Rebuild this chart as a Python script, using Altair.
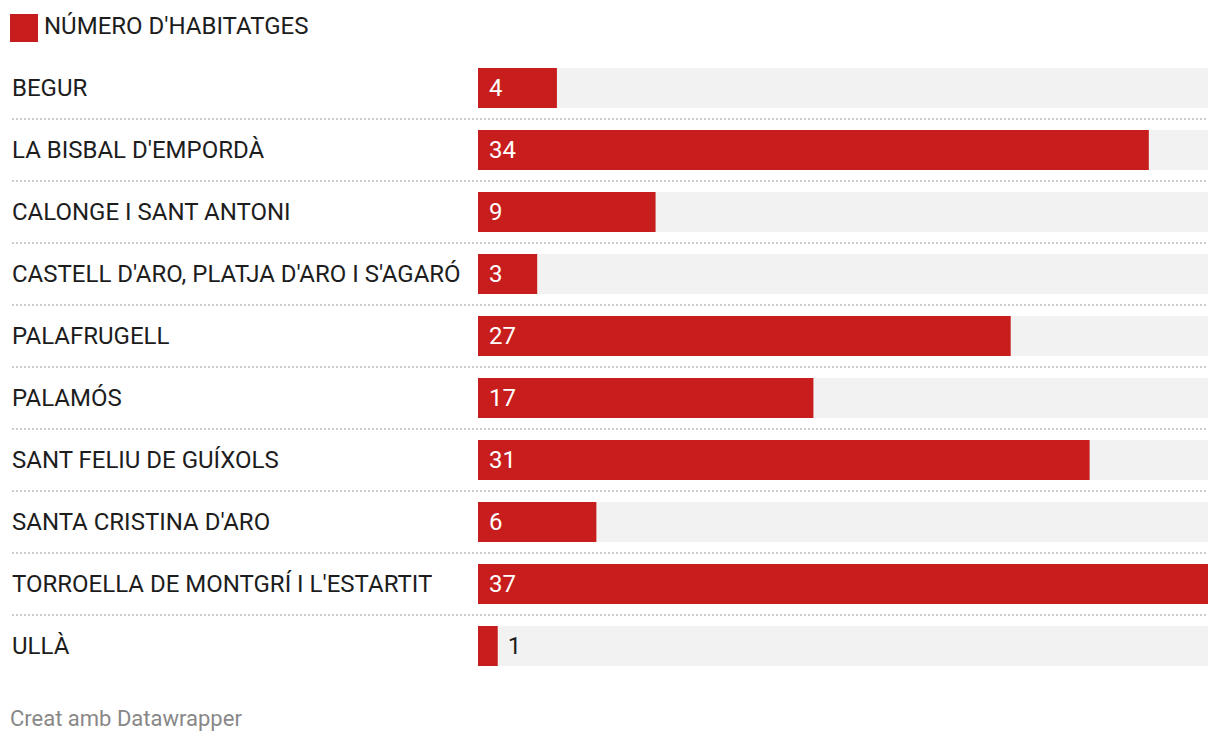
import altair as alt
import pandas as pd

categories = [
    "BEGUR",
    "LA BISBAL D'EMPORDÀ",
    "CALONGE I SANT ANTONI",
    "CASTELL D'ARO, PLATJA D'ARO I S'AGARÓ",
    "PALAFRUGELL",
    "PALAMÓS",
    "SANT FELIU DE GUÍXOLS",
    "SANTA CRISTINA D'ARO",
    "TORROELLA DE MONTGRÍ I L'ESTARTIT",
    "ULLÀ",
]
values = [4, 34, 9, 3, 27, 17, 31, 6, 37, 1]
legend_label = "NÚMERO D'HABITATGES"
footer = "Creat amb Datawrapper"

RED = "#c71d1d"
FONT = "Roboto"
FS = 24
MAXV = max(values)

df = pd.DataFrame({"cat": categories, "value": values, "max": [MAXV] * len(values)})
df["last"] = [i == len(categories) - 1 for i in range(len(categories))]

y = alt.Y("cat:N", sort=categories, axis=None,
          scale=alt.Scale(paddingInner=22 / 62, paddingOuter=11 / 62))
xs = alt.Scale(domain=[0, MAXV], nice=False, zero=True)

base = alt.Chart(df)

bg = base.mark_bar(color="#f2f2f2").encode(
    x=alt.X("max:Q", scale=xs, axis=None), y=y)
bars = base.mark_bar(color=RED).encode(
    x=alt.X("value:Q", scale=xs, axis=None), y=y)

inside = base.transform_filter("datum.value >= 2").mark_text(
    align="left", baseline="middle", font=FONT, fontSize=FS, color="white", dy=1
).encode(x=alt.value(11), y=y, text="value:Q")

outside = base.transform_filter("datum.value < 2").mark_text(
    align="left", baseline="middle", font=FONT, fontSize=FS, color="#1d1d1d", dx=10, dy=1
).encode(x=alt.X("value:Q", scale=xs), y=y, text="value:Q")

names = base.mark_text(
    align="left", baseline="middle", font=FONT, fontSize=FS, color="#1d1d1d", dy=1
).encode(x=alt.value(-466), y=y, text="cat:N")

seps = base.transform_filter("!datum.last").mark_rule(
    color="#cccccc", strokeWidth=2, strokeDash=[2, 2], yOffset=31
).encode(x=alt.value(-466), x2=alt.value(730), y=y)

one = pd.DataFrame({"label": [legend_label], "footer": [footer]})
leg_rect = alt.Chart(one).mark_rect(color=RED).encode(
    x=alt.value(-468), x2=alt.value(-440), y=alt.value(-43), y2=alt.value(-15))
leg_text = alt.Chart(one).mark_text(
    align="left", baseline="middle", font=FONT, fontSize=FS, color="#1d1d1d"
).encode(x=alt.value(-434), y=alt.value(-30), text="label:N")
foot = alt.Chart(one).mark_text(
    align="left", baseline="middle", font=FONT, fontSize=22, color="#888888"
).encode(x=alt.value(-468), y=alt.value(662), text="footer:N")

chart = alt.layer(bg, bars, seps, inside, outside, names, leg_rect, leg_text, foot).properties(
    width=730, height=620,
    autosize=alt.AutoSizeParams(type="none"),
    padding={"left": 470, "top": 49, "right": 4, "bottom": 60},
).configure_view(stroke=None)

chart.save("out.html", embed_options={"renderer": "svg", "actions": False})
